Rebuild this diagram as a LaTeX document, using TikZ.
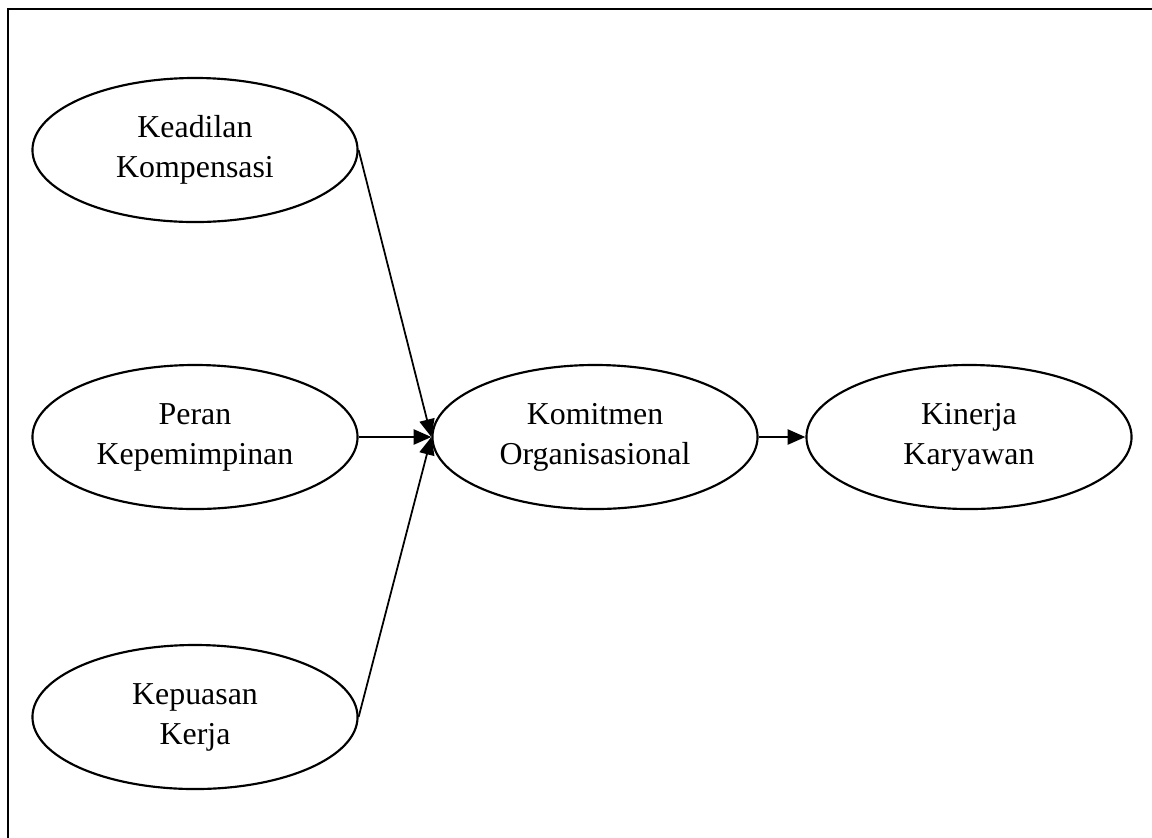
\documentclass[tikz,border=0pt]{standalone}
\usepackage{fontspec}
\setmainfont{Liberation Serif}
\usetikzlibrary{shapes.geometric,arrows.meta}
\newcommand{\wid}{4.514cm}
\newcommand{\hei}{2.0cm}

\begin{document}
\begin{tikzpicture}[
      x=0.013889cm, y=-0.013889cm, %one unit is one pixel, y downwards
      var/.style={draw,ellipse,line width=0.85pt,inner sep=0pt,
        minimum width=\wid, minimum height=\hei,align=center,
        font=\fontsize{12.6}{15.8}\selectfont},
      path/.style={line width=0.7pt,-{Triangle[length=7pt,width=6pt]}},
      frame/.style={line width=1pt}
    ]
    \useasboundingbox (0,0) rectangle (1152,837);
    \clip (0,0) rectangle (1152,837);
    % the frame, its right and bottom side fall outside
    \draw[frame] (8,9) rectangle (1170,860);
    % the variables
    \node[var] (keadilan) at (195,150) {Keadilan\\Kompensasi};
    \node[var] (peran) at (195,437) {Peran\\Kepemimpinan};
    \node[var] (kepuasan) at (195,717) {Kepuasan\\Kerja};
    \node[var] (komitmen) at (595,437) {Komitmen\\Organisasional};
    \node[var] (kinerja) at (969,437) {Kinerja\\Karyawan};
    % the paths
    \draw[path] (keadilan.east) -- (komitmen.west);
    \draw[path] (peran.east) -- (komitmen.west);
    \draw[path] (kepuasan.east) -- (komitmen.west);
    \draw[path] (komitmen.east) -- (kinerja.west);
\end{tikzpicture}
\end{document}
